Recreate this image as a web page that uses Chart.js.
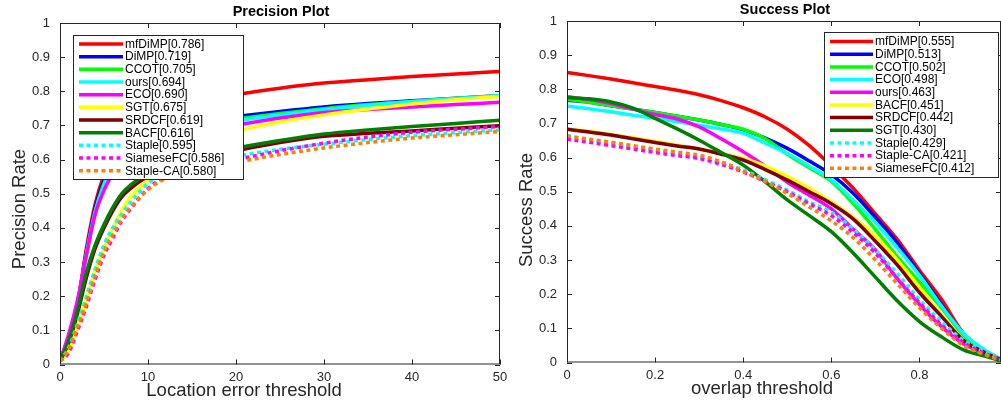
<!DOCTYPE html>
<html lang="en">
<head>
<meta charset="UTF-8">
<title>Precision and Success Plots</title>
<script src="https://cdn.jsdelivr.net/npm/chart.js"></script>
<style>
    html, body { margin: 0; padding: 0; background: #fff; }
    body { width: 1001px; height: 402px; position: relative; overflow: hidden; }
    #precisionChart { position: absolute; left: 0; top: 0; }
    #successChart { position: absolute; left: 505px; top: 0; }
</style>
</head>
<body>
<canvas id="precisionChart" width="515" height="402"></canvas>
<canvas id="successChart" width="496" height="402"></canvas>
<script>
// thresholds (x values) and tick labels
const errorThresholds = [0, 1, 2, 3, 4, 5, 6, 7, 8, 10, 12, 15, 20, 25, 30, 35, 40, 45, 50];
const overlapThresholds = [0, 0.05, 0.1, 0.15, 0.2, 0.25, 0.3, 0.35, 0.4, 0.45, 0.5, 0.55, 0.6, 0.65, 0.7, 0.75, 0.8, 0.85, 0.9, 0.95, 1];
const precisionTicksX = [0, 10, 20, 30, 40, 50];
const successTicksX = [0, 0.2, 0.4, 0.6, 0.8];
const rateTicks = [0, 0.1, 0.2, 0.3, 0.4, 0.5, 0.6, 0.7, 0.8, 0.9, 1];

// precision plot (legend order)
const precisionNames = ['mfDiMP', 'DiMP', 'CCOT', 'ours', 'ECO', 'SGT', 'SRDCF', 'BACF', 'Staple', 'SiameseFC', 'Staple-CA'];
const precisionScores = [0.786, 0.719, 0.705, 0.694, 0.690, 0.675, 0.619, 0.616, 0.595, 0.586, 0.580];
const precMfDiMP    = [0.01, 0.08, 0.18, 0.34, 0.47, 0.555, 0.61, 0.65, 0.68, 0.72, 0.745, 0.768, 0.79, 0.809, 0.824, 0.834, 0.843, 0.851, 0.858];
const precDiMP      = [0.01, 0.08, 0.18, 0.33, 0.46, 0.54, 0.595, 0.63, 0.655, 0.685, 0.70, 0.713, 0.726, 0.741, 0.754, 0.764, 0.772, 0.78, 0.787];
const precCCOT      = [0.01, 0.08, 0.18, 0.325, 0.45, 0.53, 0.585, 0.62, 0.645, 0.675, 0.69, 0.705, 0.719, 0.735, 0.749, 0.761, 0.77, 0.779, 0.787];
const precOurs      = [0.01, 0.08, 0.18, 0.32, 0.445, 0.525, 0.578, 0.613, 0.638, 0.668, 0.684, 0.699, 0.714, 0.731, 0.746, 0.759, 0.77, 0.779, 0.787];
const precECO       = [0.01, 0.09, 0.19, 0.32, 0.44, 0.51, 0.56, 0.60, 0.625, 0.655, 0.672, 0.688, 0.702, 0.722, 0.738, 0.747, 0.754, 0.761, 0.768];
const precSGT       = [0.01, 0.04, 0.11, 0.19, 0.275, 0.34, 0.40, 0.45, 0.49, 0.54, 0.58, 0.63, 0.682, 0.71, 0.731, 0.748, 0.763, 0.775, 0.785];
const precSRDCF     = [0.01, 0.065, 0.15, 0.255, 0.34, 0.40, 0.45, 0.49, 0.515, 0.551, 0.575, 0.60, 0.626, 0.65, 0.668, 0.677, 0.684, 0.692, 0.699];
const precBACF      = [0.01, 0.07, 0.16, 0.27, 0.35, 0.41, 0.46, 0.50, 0.525, 0.561, 0.585, 0.61, 0.634, 0.656, 0.675, 0.687, 0.697, 0.706, 0.715];
const precStaple    = [0.01, 0.05, 0.12, 0.20, 0.28, 0.35, 0.40, 0.44, 0.475, 0.53, 0.56, 0.585, 0.61, 0.63, 0.645, 0.659, 0.67, 0.679, 0.687];
const precSiameseFC = [0.01, 0.035, 0.10, 0.17, 0.25, 0.32, 0.37, 0.42, 0.455, 0.515, 0.55, 0.577, 0.60, 0.626, 0.648, 0.666, 0.68, 0.689, 0.697];
const precStapleCA  = [0.01, 0.045, 0.11, 0.18, 0.26, 0.33, 0.38, 0.425, 0.46, 0.512, 0.545, 0.57, 0.592, 0.615, 0.634, 0.65, 0.663, 0.673, 0.682];

// success plot (legend order)
const successNames = ['mfDiMP', 'DiMP', 'CCOT', 'ECO', 'ours', 'BACF', 'SRDCF', 'SGT', 'Staple', 'Staple-CA', 'SiameseFC'];
const successScores = [0.555, 0.513, 0.502, 0.498, 0.463, 0.451, 0.442, 0.430, 0.429, 0.421, 0.412];
const succMfDiMP    = [0.849, 0.840, 0.830, 0.819, 0.808, 0.797, 0.784, 0.767, 0.746, 0.719, 0.683, 0.635, 0.575, 0.51, 0.435, 0.36, 0.27, 0.185, 0.085, 0.033, 0];
const succDiMP      = [0.768, 0.762, 0.752, 0.742, 0.732, 0.721, 0.710, 0.697, 0.681, 0.657, 0.627, 0.59, 0.55, 0.495, 0.425, 0.35, 0.26, 0.17, 0.08, 0.03, 0];
const succCCOT      = [0.771, 0.762, 0.752, 0.742, 0.732, 0.721, 0.710, 0.697, 0.683, 0.655, 0.61, 0.57, 0.53, 0.465, 0.39, 0.31, 0.235, 0.16, 0.08, 0.03, 0];
const succECO       = [0.751, 0.743, 0.734, 0.724, 0.715, 0.705, 0.695, 0.684, 0.671, 0.642, 0.612, 0.575, 0.535, 0.475, 0.41, 0.335, 0.255, 0.165, 0.085, 0.035, 0];
const succOurs      = [0.778, 0.77, 0.758, 0.742, 0.726, 0.713, 0.69, 0.655, 0.617, 0.575, 0.528, 0.49, 0.45, 0.39, 0.33, 0.245, 0.17, 0.105, 0.055, 0.025, 0];
const succBACF      = [0.685, 0.677, 0.668, 0.658, 0.648, 0.637, 0.625, 0.612, 0.598, 0.575, 0.545, 0.51, 0.47, 0.425, 0.37, 0.30, 0.22, 0.14, 0.066, 0.028, 0];
const succSRDCF     = [0.683, 0.675, 0.666, 0.655, 0.644, 0.634, 0.625, 0.61, 0.593, 0.565, 0.534, 0.50, 0.465, 0.42, 0.355, 0.285, 0.205, 0.135, 0.065, 0.028, 0];
const succSGT       = [0.776, 0.772, 0.763, 0.745, 0.715, 0.684, 0.651, 0.615, 0.578, 0.529, 0.476, 0.43, 0.383, 0.32, 0.25, 0.18, 0.12, 0.075, 0.037, 0.018, 0];
const succStaple    = [0.665, 0.652, 0.642, 0.632, 0.622, 0.611, 0.60, 0.585, 0.564, 0.535, 0.505, 0.47, 0.44, 0.39, 0.33, 0.26, 0.185, 0.12, 0.065, 0.03, 0];
const succStapleCA  = [0.654, 0.645, 0.635, 0.625, 0.615, 0.606, 0.597, 0.58, 0.558, 0.53, 0.50, 0.465, 0.43, 0.38, 0.32, 0.245, 0.175, 0.11, 0.058, 0.026, 0];
const succSiameseFC = [0.663, 0.654, 0.645, 0.635, 0.625, 0.616, 0.607, 0.588, 0.56, 0.53, 0.495, 0.455, 0.415, 0.365, 0.30, 0.23, 0.16, 0.1, 0.05, 0.022, 0];

const precisionSeries = [precMfDiMP, precDiMP, precCCOT, precOurs, precECO, precSGT, precSRDCF, precBACF, precStaple, precSiameseFC, precStapleCA];
const successSeries = [succMfDiMP, succDiMP, succCCOT, succECO, succOurs, succBACF, succSRDCF, succSGT, succStaple, succStapleCA, succSiameseFC];

// style by rank (same in both plots)
const rankColors = ['#ff0000', '#0000ff', '#00ff00', '#00ffff', '#ff00ff', '#ffff00', '#800000', '#008000', '#00ffff', '#ff00ff', '#ff8000'];
const rankDotted = [false, false, false, false, false, false, false, false, true, true, true];

const FONT = "'Liberation Sans', Arial, Helvetica, sans-serif";
const AXIS_COLOR = '#262626';

function makeDatasets(names, scores, series, xs) {
    return names.map((name, i) => ({
        label: name + '[' + scores[i].toFixed(3) + ']',
        data: xs.map((x, j) => ({ x: x, y: series[i][j] })),
        borderColor: rankColors[i],
        backgroundColor: rankColors[i],
        borderWidth: 3.5,
        borderDash: rankDotted[i] ? [4, 3.5] : [],
        borderCapStyle: 'butt',
        pointRadius: 0,
        fill: false,
        cubicInterpolationMode: 'monotone',
        order: -i   // later entries drawn on top, like MATLAB
    }));
}

// box, inward ticks, legend and texts
const framePlugin = {
    id: 'frame',
    afterDatasetsDraw(chart, args, opts) {
        const ctx = chart.ctx;
        const a = chart.chartArea;
        const xs = chart.scales.x, ys = chart.scales.y;
        ctx.save();
        ctx.strokeStyle = AXIS_COLOR;
        ctx.lineWidth = 1;
        ctx.setLineDash([]);
        ctx.strokeRect(a.left + 0.5, a.top + 0.5, a.width - 1, a.height - 1);
        ctx.beginPath();
        xs.ticks.forEach(t => {
            const px = Math.round(xs.getPixelForValue(t.value)) + 0.5;
            ctx.moveTo(px, a.bottom); ctx.lineTo(px, a.bottom - 5);
            ctx.moveTo(px, a.top); ctx.lineTo(px, a.top + 5);
        });
        ys.ticks.forEach(t => {
            const py = Math.round(ys.getPixelForValue(t.value)) + 0.5;
            ctx.moveTo(a.left, py); ctx.lineTo(a.left + 5, py);
            ctx.moveTo(a.right, py); ctx.lineTo(a.right - 5, py);
        });
        ctx.stroke();

        // legend box
        const lg = opts.legend;
        ctx.fillStyle = '#fff';
        ctx.fillRect(lg.x, lg.y, lg.w, lg.h);
        ctx.strokeStyle = AXIS_COLOR;
        ctx.strokeRect(lg.x + 0.5, lg.y + 0.5, lg.w, lg.h);
        ctx.font = '12px ' + FONT;
        ctx.textBaseline = 'middle';
        ctx.textAlign = 'left';
        chart.data.datasets.forEach((ds, i) => {
            const yy = lg.first + i * lg.step;
            ctx.strokeStyle = ds.borderColor;
            ctx.lineWidth = ds.borderWidth;
            ctx.lineCap = 'butt';
            ctx.setLineDash(ds.borderDash);
            ctx.beginPath();
            ctx.moveTo(lg.lineX, yy);
            ctx.lineTo(lg.lineX + lg.lineLen, yy);
            ctx.stroke();
            ctx.fillStyle = '#000';
            ctx.fillText(ds.label, lg.textX, yy + 0.5);
        });
        ctx.setLineDash([]);

        // title and axis titles
        ctx.fillStyle = '#000';
        ctx.textAlign = 'center';
        ctx.font = 'bold 14.5px ' + FONT;
        ctx.fillText(opts.title, opts.titleX, opts.titleY);
        ctx.fillStyle = AXIS_COLOR;
        ctx.font = '18.5px ' + FONT;
        ctx.fillText(opts.xTitle, opts.xTitleX, opts.xTitleY);
        ctx.save();
        ctx.translate(opts.yTitleX, opts.yTitleY);
        ctx.rotate(-Math.PI / 2);
        ctx.fillText(opts.yTitle, 0, 0);
        ctx.restore();
        ctx.restore();
    }
};

function makeChart(id, cfg) {
    return new Chart(document.getElementById(id), {
        type: 'line',
        data: { datasets: makeDatasets(cfg.names, cfg.scores, cfg.series, cfg.xs) },
        options: {
            responsive: false,
            animation: false,
            devicePixelRatio: 1,
            layout: { padding: cfg.padding },
            plugins: {
                legend: { display: false },
                title: { display: false },
                tooltip: { enabled: false },
                frame: cfg.frame
            },
            scales: {
                x: {
                    type: 'linear',
                    min: cfg.xMin, max: cfg.xMax,
                    afterBuildTicks: s => { s.ticks = cfg.xTicks.map(v => ({ value: v })); },
                    afterFit: s => { s.height = cfg.xAxisHeight; s.paddingLeft = 0; s.paddingRight = 0; },
                    grid: { display: false, drawTicks: false },
                    border: { display: false },
                    ticks: {
                        autoSkip: false, maxRotation: 0, padding: 5,
                        color: AXIS_COLOR, font: { family: FONT, size: 13 },
                        callback: v => String(+v.toFixed(1))
                    }
                },
                y: {
                    type: 'linear',
                    min: 0, max: 1,
                    afterBuildTicks: s => { s.ticks = rateTicks.map(v => ({ value: v })); },
                    afterFit: s => { s.width = cfg.yAxisWidth; s.paddingTop = 0; s.paddingBottom = 0; },
                    grid: { display: false, drawTicks: false },
                    border: { display: false },
                    ticks: {
                        autoSkip: false, padding: 10,
                        color: AXIS_COLOR, font: { family: FONT, size: 13 },
                        callback: v => String(+v.toFixed(1))
                    }
                }
            }
        },
        plugins: [framePlugin]
    });
}

makeChart('precisionChart', {
    names: precisionNames, scores: precisionScores, series: precisionSeries, xs: errorThresholds,
    xMin: 0, xMax: 50, xTicks: precisionTicksX,
    padding: { top: 23, right: 15, bottom: 0, left: 0 },
    xAxisHeight: 37.5, yAxisWidth: 60,
    frame: {
        legend: { x: 73, y: 35, w: 170, h: 144, first: 44, step: 12.67, lineX: 79, lineLen: 44, textX: 125 },
        title: 'Precision Plot', titleX: 281, titleY: 12,
        xTitle: 'Location error threshold', xTitleX: 244, xTitleY: 391,
        yTitle: 'Precision Rate', yTitleX: 20, yTitleY: 209
    }
});

makeChart('successChart', {
    names: successNames, scores: successScores, series: successSeries, xs: overlapThresholds,
    xMin: 0, xMax: 0.985, xTicks: successTicksX,
    padding: { top: 21, right: 0, bottom: 0, left: 0 },
    xAxisHeight: 39.5, yAxisWidth: 62,
    frame: {
        legend: { x: 319, y: 32, w: 174, h: 145, first: 41.6, step: 12.67, lineX: 325, lineLen: 43, textX: 370 },
        title: 'Success Plot', titleX: 280, titleY: 10,
        xTitle: 'overlap threshold', xTitleX: 257, xTitleY: 389,
        yTitle: 'Success Rate', yTitleX: 22, yTitleY: 210
    }
});
</script>
</body>
</html>
